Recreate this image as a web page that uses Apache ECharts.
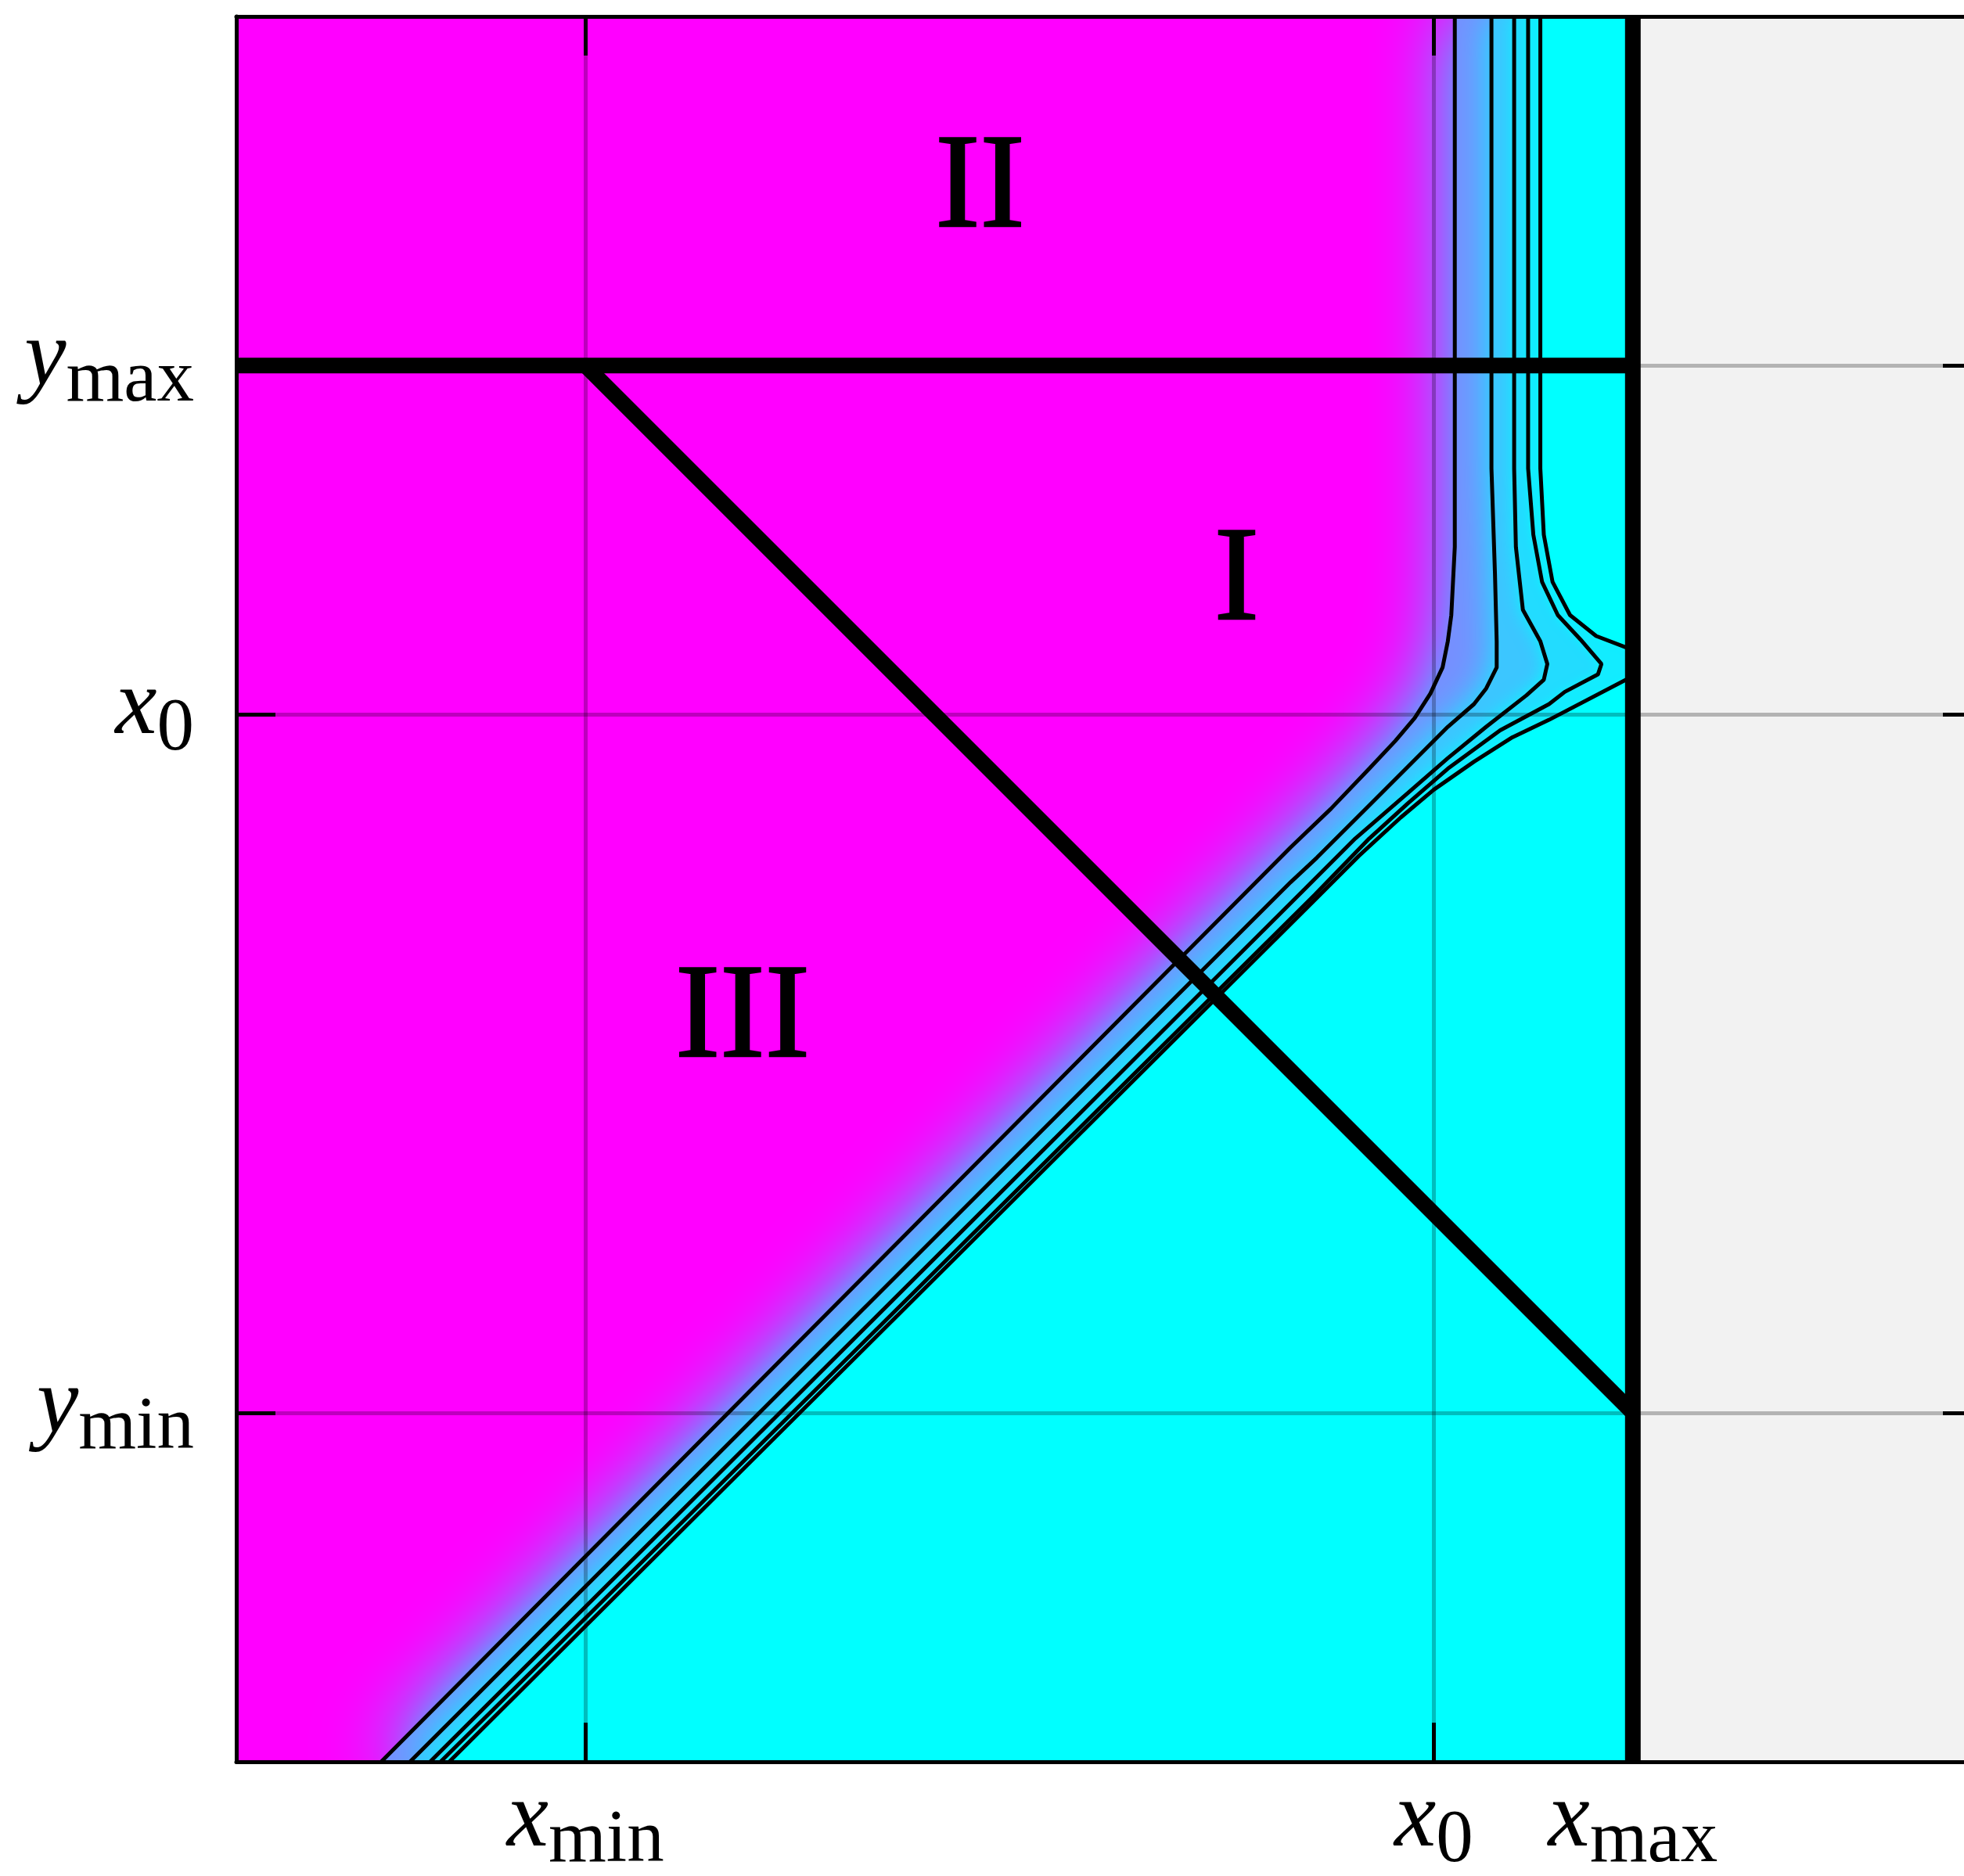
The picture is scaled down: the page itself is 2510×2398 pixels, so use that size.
<!DOCTYPE html>
<html>
<head>
<meta charset="utf-8">
<title>Regions I, II, III</title>
<script src="https://cdn.jsdelivr.net/npm/echarts@6/dist/echarts.min.js"></script>
<style>
    html, body { margin: 0; padding: 0; background: #fff; }
    #chart { width: 2510px; height: 2398px; }
</style>
</head>
<body>
<div id="chart"></div>
<script>
// ticks on the unit square and what they are called
let xTickValues = [0.2, 0.686, 0.8]
let xTickNames = [['x', 'min'], ['x', '0'], ['x', 'max']]
let yTickValues = [0.2, 0.6, 0.8]
let yTickNames = [['y', 'min'], ['x', '0'], ['y', 'max']]

// contour lines, from the top edge down to the bottom edge
let contour1 = [[0.698, 1], [0.698, 0.741], [0.698, 0.696], [0.696, 0.657], [0.694, 0.642], [0.691, 0.627],
    [0.684, 0.612], [0.675, 0.598], [0.664, 0.585], [0.649, 0.569], [0.627, 0.546], [0.604, 0.524], [0.083, 0]]
let contour2 = [[0.719, 1], [0.719, 0.741], [0.721, 0.681], [0.722, 0.642], [0.722, 0.627], [0.716, 0.615],
    [0.709, 0.606], [0.694, 0.593], [0.679, 0.578], [0.649, 0.548], [0.619, 0.518], [0.604, 0.504], [0.0995, 0]]
let contour3 = [[0.732, 1], [0.732, 0.741], [0.733, 0.696], [0.737, 0.660], [0.747, 0.642], [0.751, 0.629],
    [0.749, 0.620], [0.739, 0.611], [0.716, 0.593], [0.694, 0.575], [0.671, 0.555], [0.641, 0.529],
    [0.612, 0.500], [0.111, 0]]
let contour4 = [[0.740, 1], [0.740, 0.741], [0.743, 0.703], [0.748, 0.676], [0.757, 0.657], [0.770, 0.643],
    [0.782, 0.629], [0.780, 0.623], [0.761, 0.613], [0.752, 0.606], [0.724, 0.591], [0.694, 0.569],
    [0.671, 0.549], [0.649, 0.529], [0.618, 0.497], [0.117, 0]]
// the outermost level is cut in two by the x_max wall
let contour5Upper = [[0.747, 1], [0.747, 0.741], [0.749, 0.703], [0.754, 0.676], [0.764, 0.657], [0.779, 0.645], [0.8, 0.637]]
let contour5Lower = [[0.8, 0.622], [0.752, 0.597], [0.731, 0.587], [0.709, 0.573], [0.686, 0.557], [0.667, 0.541],
    [0.643, 0.519], [0.620, 0.496], [0.122, 0]]

// thick boundaries of the domain
let topBoundary = [[0, 0.8], [0.8, 0.8]]
let diagonalBoundary = [[0.2, 0.8], [0.8, 0.2]]
let rightBoundary = [[0.8, 0], [0.8, 1]]
let outsideRegion = [[0.8, 0], [1.05, 0], [1.05, 1], [0.8, 1]]

let regionLabels = [[0.426, 0.900, 'II'], [0.573, 0.675, 'I'], [0.290, 0.4245, 'III']]

let serif = '"Liberation Serif", "Times New Roman", serif'

// closes a contour against the right side of the plot so the area behind it can be filled
function closeRight(points, yFrom, yTo) {
    return points.concat([[1.05, yFrom], [1.05, yTo]])
}

function bandSeries(points, color, blur) {
    return {
        type: 'custom',
        clip: true,
        silent: true,
        z: 2,
        data: [0],
        renderItem: function(params, api) {
            return {
                type: 'polygon',
                shape: { points: points.map(function(p) { return api.coord(p) }) },
                style: { fill: color, shadowBlur: blur, shadowColor: '#00ffff' }
            }
        }
    }
}

function lineSeries(points, width, z) {
    return {
        type: 'line',
        data: points,
        symbol: 'none',
        silent: true,
        clip: true,
        z: z,
        lineStyle: { color: '#000', width: width, cap: 'butt' }
    }
}

let labelRich = {
    v: { fontFamily: serif, fontStyle: 'italic', fontSize: 120, color: '#000', verticalAlign: 'top' },
    s: { fontFamily: serif, fontSize: 95, color: '#000', verticalAlign: 'top', padding: [40, 0, 0, 0] }
}

function tickLabel(values, names) {
    return function(value) {
        let i = values.indexOf(value)
        if (i < 0) return ''
        return `{v|${names[i][0]}}{s|${names[i][1]}}`
    }
}

function axisOpt(kind, position, values, names, showLabels) {
    return {
        type: 'value',
        position: position,
        min: 0,
        max: 1,
        z: 10,
        axisLine: { show: true, onZero: false, lineStyle: { color: '#000', width: 5 } },
        axisTick: { show: true, inside: true, length: 50, customValues: values, lineStyle: { color: '#000', width: 5 } },
        axisLabel: {
            show: showLabels,
            customValues: values,
            margin: kind === 'x' ? 15 : 54,
            formatter: tickLabel(values, names),
            rich: labelRich
        },
        splitLine: { show: showLabels, lineStyle: { color: 'rgba(0,0,0,0.26)', width: 5 } },
        minorTick: { show: false }
    }
}

let chart = echarts.init(document.getElementById('chart'), null, { renderer: 'canvas' })

let option = {
    animation: false,
    backgroundColor: '#fff',
    grid: {
        left: 302, top: 21, width: 2231, height: 2231,
        outerBoundsMode: 'none',
        show: true, backgroundColor: '#ff00ff', borderWidth: 0
    },
    xAxis: [
        axisOpt('x', 'bottom', xTickValues, xTickNames, true),
        axisOpt('x', 'top', xTickValues, xTickNames, false)
    ],
    yAxis: [
        axisOpt('y', 'left', yTickValues, yTickNames, true),
        axisOpt('y', 'right', yTickValues, yTickNames, false)
    ],
    series: [
        bandSeries(closeRight(contour1, 0, 1), '#7690ff', 100),
        bandSeries(closeRight(contour2, 0, 1), '#3cc6ff', 50),
        bandSeries(closeRight(contour3, 0, 1), '#22dcff', 24),
        bandSeries(closeRight(contour4, 0, 1), '#12ecff', 14),
        bandSeries(closeRight(contour5Upper, 0.637, 1), '#00ffff', 10),
        bandSeries(closeRight(contour5Lower, 0, 0.622), '#00ffff', 10),
        {
            type: 'custom',
            clip: true,
            silent: true,
            z: 3,
            data: [0],
            renderItem: function(params, api) {
                return {
                    type: 'polygon',
                    shape: { points: outsideRegion.map(function(p) { return api.coord(p) }) },
                    style: { fill: '#f2f2f2' }
                }
            }
        },
        lineSeries(contour1, 5, 4),
        lineSeries(contour2, 5, 4),
        lineSeries(contour3, 5, 4),
        lineSeries(contour4, 5, 4),
        lineSeries(contour5Upper, 5, 4),
        lineSeries(contour5Lower, 5, 4),
        lineSeries(topBoundary, 20, 6),
        lineSeries(diagonalBoundary, 20, 6),
        lineSeries(rightBoundary, 20, 6),
        {
            type: 'custom',
            silent: true,
            z: 7,
            data: regionLabels.map(function(r) { return [r[0], r[1]] }),
            renderItem: function(params, api) {
                let p = api.coord([api.value(0), api.value(1)])
                return {
                    type: 'text',
                    x: p[0],
                    y: p[1],
                    style: {
                        text: regionLabels[params.dataIndex][2],
                        fontFamily: serif,
                        fontSize: 172,
                        fill: '#000',
                        stroke: '#000',
                        lineWidth: 2.5,
                        align: 'center',
                        verticalAlign: 'middle'
                    }
                }
            }
        }
    ]
}

chart.setOption(option)
</script>
</body>
</html>
